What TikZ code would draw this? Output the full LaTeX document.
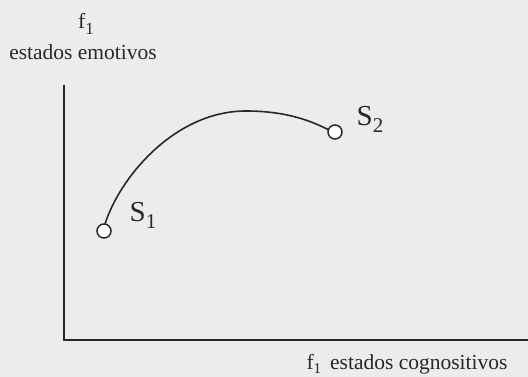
\documentclass[tikz,border=0pt]{standalone}
\usepackage{fontspec}
\setmainfont{Liberation Serif}
\usepackage{tikz}
\usetikzlibrary{positioning}
\definecolor{paper}{RGB}{236,236,236}
\definecolor{ink}{RGB}{40,40,40}
\tikzset{
  axis/.style={line width=1.8pt, color=ink},
  curve/.style={line width=1.6pt, color=ink},
  state/.style={circle, draw=ink, fill=white, line width=1.5pt,
    minimum size=14pt, inner sep=0pt},
  lbl/.style={font=\fontsize{21.5}{23}\selectfont, text=ink, inner sep=1pt},
  slbl/.style={font=\fontsize{29}{31}\selectfont, text=ink, inner sep=1pt}
}

\begin{document}
\begin{tikzpicture}[x=1pt, y=1pt]
    % Paper
    \fill[paper] (0,0) rectangle (528,377);
    \useasboundingbox (0,0) rectangle (528,377);

    % Axes
    \coordinate (origin) at (64,37);
    \coordinate (ytop) at (64,292);
    \coordinate (xend) at (528,37);
    \draw[axis] (ytop) -- (origin) -- (xend);

    % Axis labels
    \node[lbl] (yname) at (83,325) {estados emotivos};
    \node[lbl] (yf) at (86,353) {f\raisebox{-6pt}{\fontsize{17}{17}\selectfont 1}};
    \node[lbl] (xname) at (407,13) {f\raisebox{-4pt}{\fontsize{15}{15}\selectfont 1}\, estados cognositivos};

    % States and path
    \coordinate (peak) at (246,266);
    \draw[curve] (105,153) .. controls (120,200) and (175,266) .. (peak)
        .. controls (290,266) and (315,254) .. (329,247);
    \node[state] (s1) at (104,146) {};
    \node[state] (s2) at (335,245) {};
    \node[slbl] (s1name) at (143,162) {S\raisebox{-7pt}{\fontsize{21}{21}\selectfont 1}};
    \node[slbl] (s2name) at (370,258) {S\raisebox{-7pt}{\fontsize{21}{21}\selectfont 2}};
  \end{tikzpicture}
\end{document}
